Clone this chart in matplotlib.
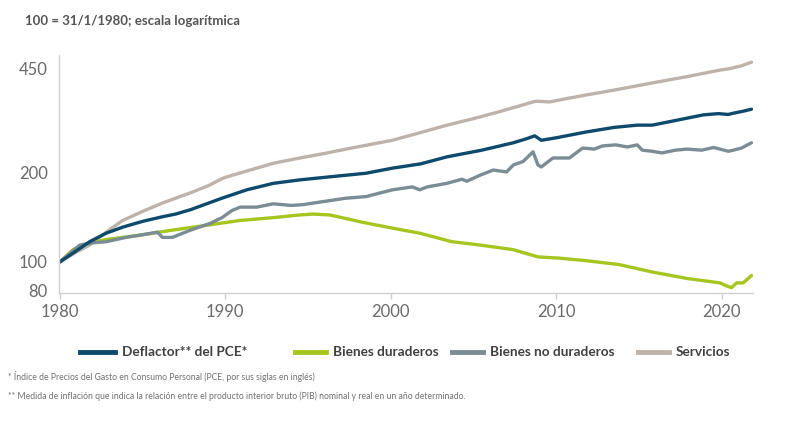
import matplotlib
matplotlib.use("Agg")
import matplotlib.pyplot as plt
from matplotlib.lines import Line2D
from matplotlib.ticker import FixedLocator, NullLocator

plt.rcParams['font.family'] = ['Lato', 'DejaVu Sans']

# Values (100 = 31/1/1980, log scale)
serv_years = [1980, 1981.0, 1981.8, 1982.8, 1983.8, 1985.0, 1986.2, 1987.9, 1989.0, 1989.9,
              1991.5, 1992.9, 1994.5, 1996.0, 1997.3, 1998.8, 2000.1, 2001.5, 2003.4,
              2005.0, 2006.5, 2008.6, 2008.8, 2009.6, 2010.5, 2011.8, 2013.8, 2015.8,
              2017.9, 2019.9, 2020.5, 2021.2, 2021.8]
serv_vals = [100, 108, 114, 126, 138, 148, 158, 171, 181, 192,
             204, 215, 224, 232, 240, 249, 257, 270, 289,
             304, 320, 346, 348, 346, 354, 365, 382, 401,
             421, 443, 448, 458, 471]

pce_years = [1980, 1981.0, 1981.8, 1982.8, 1983.8, 1985.0, 1986.2, 1987.0, 1987.9, 1989.8,
             1991.3, 1992.9, 1994.5, 1996.5, 1998.5, 2000.1, 2001.8, 2003.4, 2005.5,
             2007.4, 2008.2, 2008.7, 2009.1, 2010.0, 2011.8, 2013.5, 2014.9, 2015.8,
             2017.0, 2018.9, 2019.8, 2020.4, 2020.7, 2021.3, 2021.8]
pce_vals = [100, 109, 117, 125, 131, 137, 142, 145, 150, 164,
            175, 184, 189, 194, 199, 207, 214, 226, 238,
            252, 260, 266, 257, 262, 274, 284, 289, 289,
            298, 313, 316, 314, 317, 322, 327]

nodur_years = [1980, 1981.2, 1982.0, 1982.8, 1984.0, 1984.8, 1985.9, 1986.2, 1986.8, 1987.9,
               1989.1, 1989.8, 1990.4, 1990.9, 1991.9, 1992.9, 1994.0, 1994.7, 1996.0,
               1997.3, 1998.5, 2000.1, 2001.3, 2001.75, 2002.2, 2003.4, 2004.3, 2004.6,
               2005.4, 2006.2, 2007.0, 2007.4, 2008.0, 2008.6, 2008.9, 2009.1, 2009.8,
               2010.8, 2011.6, 2012.3, 2012.8, 2013.6, 2014.3, 2014.9, 2015.2, 2015.8,
               2016.4, 2017.2, 2017.9, 2018.8, 2019.5, 2019.9, 2020.4, 2020.7, 2021.2,
               2021.8]
nodur_vals = [100, 114, 116, 117, 121, 123, 126, 121, 121, 128,
              135, 141, 149, 153, 153, 157, 155, 156, 160,
              164, 166, 175, 179, 175, 179, 184, 190, 187,
              196, 204, 201, 212, 218, 235, 212, 209, 224,
              224, 242, 240, 246, 248, 244, 248, 238, 236,
              233, 238, 240, 238, 243, 240, 236, 238, 242,
              252]

dur_years = [1980, 1980.8, 1981.8, 1982.8, 1984.8, 1986.8, 1988.9, 1990.9, 1992.9, 1994.5,
             1995.3, 1996.3, 1997.3, 1998.3, 2000.1, 2001.75, 2003.7, 2005.4, 2007.4,
             2008.9, 2010.2, 2011.8, 2013.8, 2015.8, 2017.9, 2019.9, 2020.3, 2020.6,
             2020.9, 2021.3, 2021.8]
dur_vals = [100, 110, 116, 119, 123, 128, 133, 138, 141, 144,
            145, 144, 140, 136, 130, 125, 117, 114, 110,
            104, 103, 101, 98, 92.5, 88, 85, 83, 82,
            85, 85, 90]

series = [
    ("Deflactor** del PCE*", pce_years, pce_vals, "#0d4a6b"),
    ("Bienes duraderos", dur_years, dur_vals, "#a6c51f"),
    ("Bienes no duraderos", nodur_years, nodur_vals, "#7b8d94"),
    ("Servicios", serv_years, serv_vals, "#bdb3aa"),
]

y_ticks = [80, 100, 200, 450]
x_ticks = [1980, 1990, 2000, 2010, 2020]

fig = plt.figure(figsize=(7.9, 4.25), dpi=100)
ax = fig.add_axes([0.0747, 0.3106, 0.8786, 0.56])

# tan behind, navy on top
for name, xs, ys, col in [series[3], series[1], series[2], series[0]]:
    ax.plot(xs, ys, color=col, lw=2.4, solid_capstyle='round', solid_joinstyle='round')

ax.set_yscale('log')
ax.set_ylim(78.6, 498)
ax.set_xlim(1979.95, 2021.9)
ax.yaxis.set_major_locator(FixedLocator(y_ticks))
ax.yaxis.set_minor_locator(NullLocator())
ax.set_yticklabels([str(v) for v in y_ticks])
ax.set_xticks(x_ticks)
ax.set_xticklabels([str(v) for v in x_ticks])

for s in ['top', 'right']:
    ax.spines[s].set_visible(False)
for s in ['left', 'bottom']:
    ax.spines[s].set_color('#d0d0d0')
    ax.spines[s].set_linewidth(1.0)
ax.tick_params(axis='y', length=0, pad=8, labelsize=12, labelcolor='#6a6a6a')
ax.tick_params(axis='x', length=4, width=1, color='#d0d0d0', pad=4,
               labelsize=12, labelcolor='#6a6a6a')

fig.text(25 / 790, 1 - 21 / 425, "100 = 31/1/1980; escala logarítmica",
         fontsize=9.5, fontweight='bold', color='#555555', va='center')

# legend, laid out like the reference
leg_y = 1 - 352 / 425
leg = [(80, 115, 122), (295, 326, 333), (452, 483, 490), (638, 669, 676)]
for (x0, x1, xt), (name, xs, ys, col) in zip(leg, series):
    fig.add_artist(Line2D([x0 / 790, x1 / 790], [leg_y, leg_y], color=col, lw=3.5,
                          transform=fig.transFigure))
    fig.text(xt / 790, leg_y, name, fontsize=9.8, fontweight='bold', color='#404040',
             va='center')

fig.text(8 / 790, 1 - 376 / 425,
         "* Índice de Precios del Gasto en Consumo Personal (PCE, por sus siglas en inglés)",
         fontsize=6.2, color='#707070', va='center')
fig.text(8 / 790, 1 - 396 / 425,
         "** Medida de inflación que indica la relación entre el producto interior bruto (PIB) "
         "nominal y real en un año determinado.",
         fontsize=6.2, color='#707070', va='center')

fig.savefig("out.png", dpi=100)
